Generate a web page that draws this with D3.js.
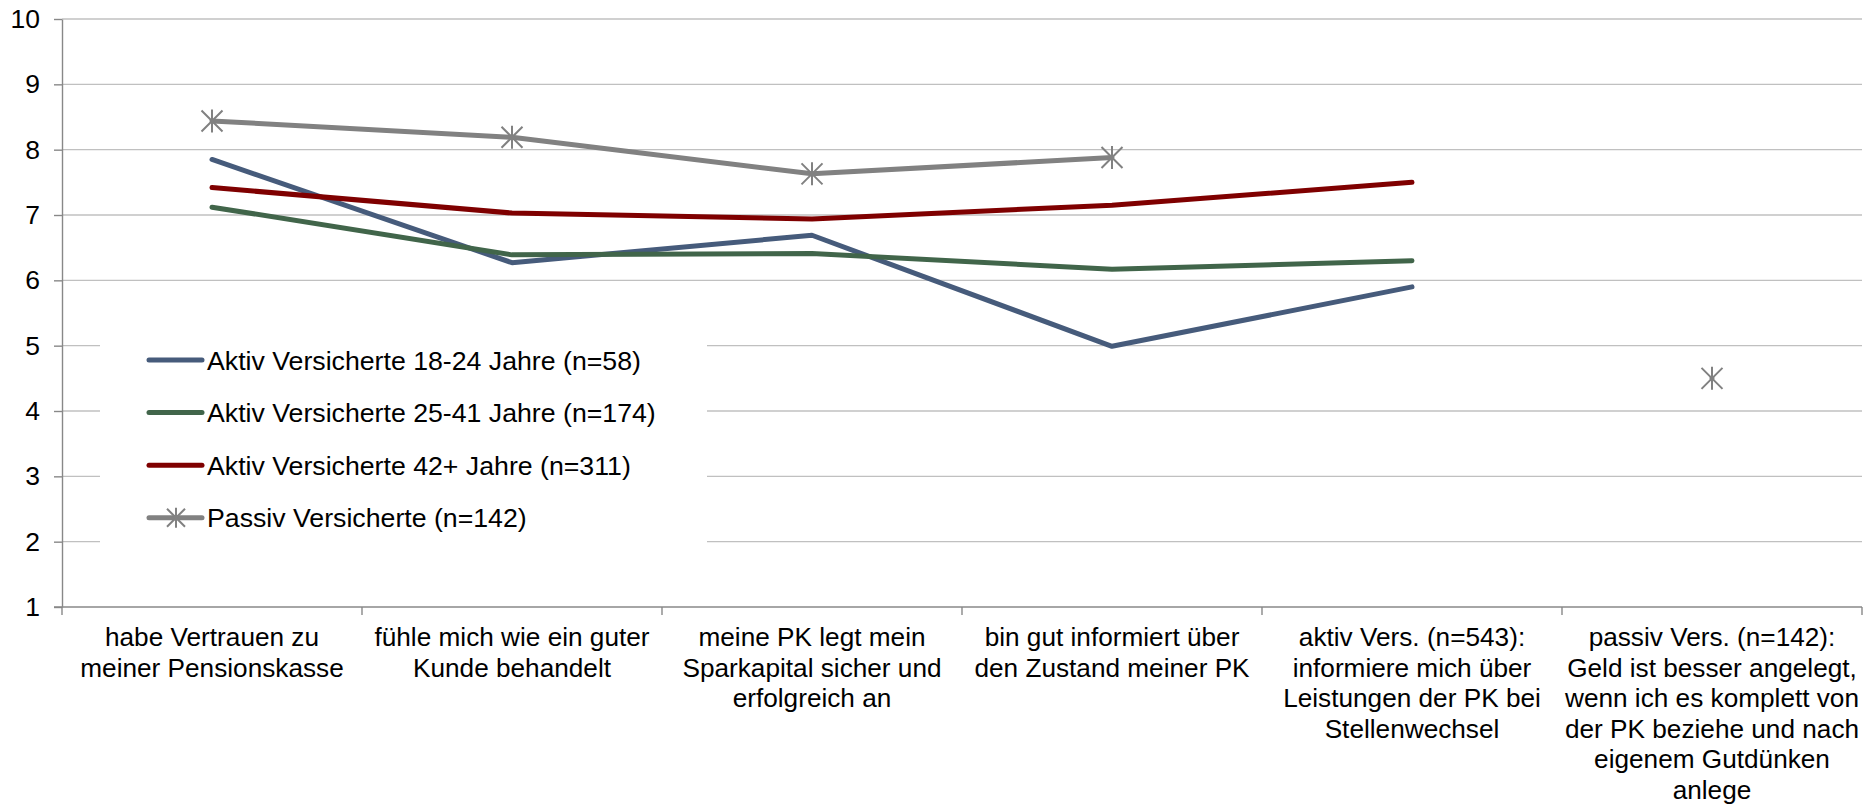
<!DOCTYPE html>
<html>
<head>
<meta charset="utf-8">
<script src="https://cdn.jsdelivr.net/npm/d3@7/dist/d3.min.js"></script>
<style>
  html, body { margin: 0; padding: 0; background: #fff; }
  svg { display: block; font-family: "Liberation Sans", Arial, sans-serif; }
</style>
</head>
<body>
<svg id="chart" width="1874" height="805"></svg>
<script>
// ---- data ----
const categories = [
  ["habe Vertrauen zu", "meiner Pensionskasse"],
  ["fühle mich wie ein guter", "Kunde behandelt"],
  ["meine PK legt mein", "Sparkapital sicher und", "erfolgreich an"],
  ["bin gut informiert über", "den Zustand meiner PK"],
  ["aktiv Vers. (n=543):", "informiere mich über", "Leistungen der PK bei", "Stellenwechsel"],
  ["passiv Vers. (n=142):", "Geld ist besser angelegt,", "wenn ich es komplett von", "der PK beziehe und nach", "eigenem Gutdünken", "anlege"]
];
const seriesNames = [
  "Aktiv Versicherte 18-24 Jahre (n=58)",
  "Aktiv Versicherte 25-41 Jahre (n=174)",
  "Aktiv Versicherte 42+ Jahre (n=311)",
  "Passiv Versicherte (n=142)"
];
const aktiv18 = [7.85, 6.27, 6.69, 4.99, 5.90, null];
const aktiv25 = [7.12, 6.39, 6.41, 6.17, 6.30, null];
const aktiv42 = [7.42, 7.03, 6.94, 7.15, 7.50, null];
const passiv  = [8.44, 8.19, 7.63, 7.88, null, 4.50];
const yTicks = [1, 2, 3, 4, 5, 6, 7, 8, 9, 10];
const seriesColors = ["#465b7b", "#41654a", "#7f0000", "#818181"];

const seriesValues = [aktiv18, aktiv25, aktiv42, passiv];
const hasMarker = [false, false, false, true];

// ---- layout ----
const svg = d3.select("#chart");
const pLeft = 62, pRight = 1862, pTop = 19, pBottom = 607;
const idx = categories.map((d, i) => i);
const x = d3.scaleBand().domain(idx).range([pLeft, pRight]).padding(0);
const y = d3.scaleLinear().domain([1, 10]).range([pBottom, pTop]);
const cx = i => x(i) + x.bandwidth() / 2;

// gridlines
svg.append("g").selectAll("line").data(yTicks.filter(t => t > 1)).join("line")
  .attr("x1", pLeft).attr("x2", pRight)
  .attr("y1", d => y(d)).attr("y2", d => y(d))
  .attr("stroke", "#c0c0c0").attr("stroke-width", 1.4);

// y axis
const yAxis = svg.append("g").attr("transform", `translate(${pLeft},0)`)
  .call(d3.axisLeft(y).tickValues(yTicks).tickSize(8).tickSizeOuter(0).tickPadding(14));
yAxis.select(".domain").attr("stroke", "#888").attr("stroke-width", 1.4);
yAxis.selectAll(".tick line").attr("stroke", "#888").attr("stroke-width", 1.4);
yAxis.selectAll(".tick text").attr("font-size", 26.5).attr("fill", "#000")
  .attr("font-family", "Liberation Sans, Arial, sans-serif");

// x axis baseline and ticks at band boundaries
const boundaries = idx.map(i => x(i)).concat([x.range()[1]]);
const xg = svg.append("g");
xg.append("line").attr("x1", pLeft - 8).attr("x2", pRight)
  .attr("y1", pBottom).attr("y2", pBottom)
  .attr("stroke", "#888").attr("stroke-width", 1.4);
xg.selectAll("line.tk").data(boundaries).join("line").attr("class", "tk")
  .attr("x1", d => d).attr("x2", d => d)
  .attr("y1", pBottom).attr("y2", pBottom + 8)
  .attr("stroke", "#888").attr("stroke-width", 1.4);

// x labels
const lab = svg.append("g").selectAll("text").data(idx).join("text")
  .attr("text-anchor", "middle").attr("font-size", 26.2).attr("fill", "#000")
  .attr("x", i => cx(i)).attr("y", 646);
lab.selectAll("tspan").data(i => categories[i].map(s => ({s, i}))).join("tspan")
  .attr("x", d => cx(d.i)).attr("dy", (d, k) => k === 0 ? 0 : 30.5)
  .text(d => d.s);

// lines
const line = d3.line().defined(d => d.v != null).x(d => cx(d.i)).y(d => y(d.v));
const markerPath = (s) => {
  const h = s / 2;
  return `M${-h},${-h}L${h},${h}M${-h},${h}L${h},${-h}M0,${-h - 1}L0,${h + 1}`;
};

seriesValues.forEach((vals, si) => {
  const pts = vals.map((v, i) => ({v, i}));
  svg.append("path").datum(pts)
    .attr("d", line).attr("fill", "none")
    .attr("stroke", seriesColors[si]).attr("stroke-width", 5)
    .attr("stroke-linecap", "round").attr("stroke-linejoin", "round");
  if (hasMarker[si]) {
    svg.append("g").selectAll("path").data(pts.filter(p => p.v != null)).join("path")
      .attr("transform", p => `translate(${cx(p.i)},${y(p.v)})`)
      .attr("d", markerPath(21)).attr("fill", "none")
      .attr("stroke", seriesColors[si]).attr("stroke-width", 2);
  }
});

// legend
const lg = svg.append("g");
lg.append("rect").attr("x", 100).attr("y", 330).attr("width", 607).attr("height", 226)
  .attr("fill", "#fff");
const rowY = k => 360 + k * 52.6;
seriesNames.forEach((name, si) => {
  const g = lg.append("g").attr("transform", `translate(0,${rowY(si)})`);
  g.append("line").attr("x1", 149).attr("x2", 202).attr("y1", 0).attr("y2", 0)
    .attr("stroke", seriesColors[si]).attr("stroke-width", 5).attr("stroke-linecap", "round");
  if (hasMarker[si]) {
    g.append("path").attr("transform", "translate(176,0)").attr("d", markerPath(18))
      .attr("fill", "none").attr("stroke", seriesColors[si]).attr("stroke-width", 2);
  }
  g.append("text").attr("x", 207).attr("y", 0).attr("dy", "0.36em")
    .attr("font-size", 26.7).attr("fill", "#000").text(name);
});
</script>
</body>
</html>
